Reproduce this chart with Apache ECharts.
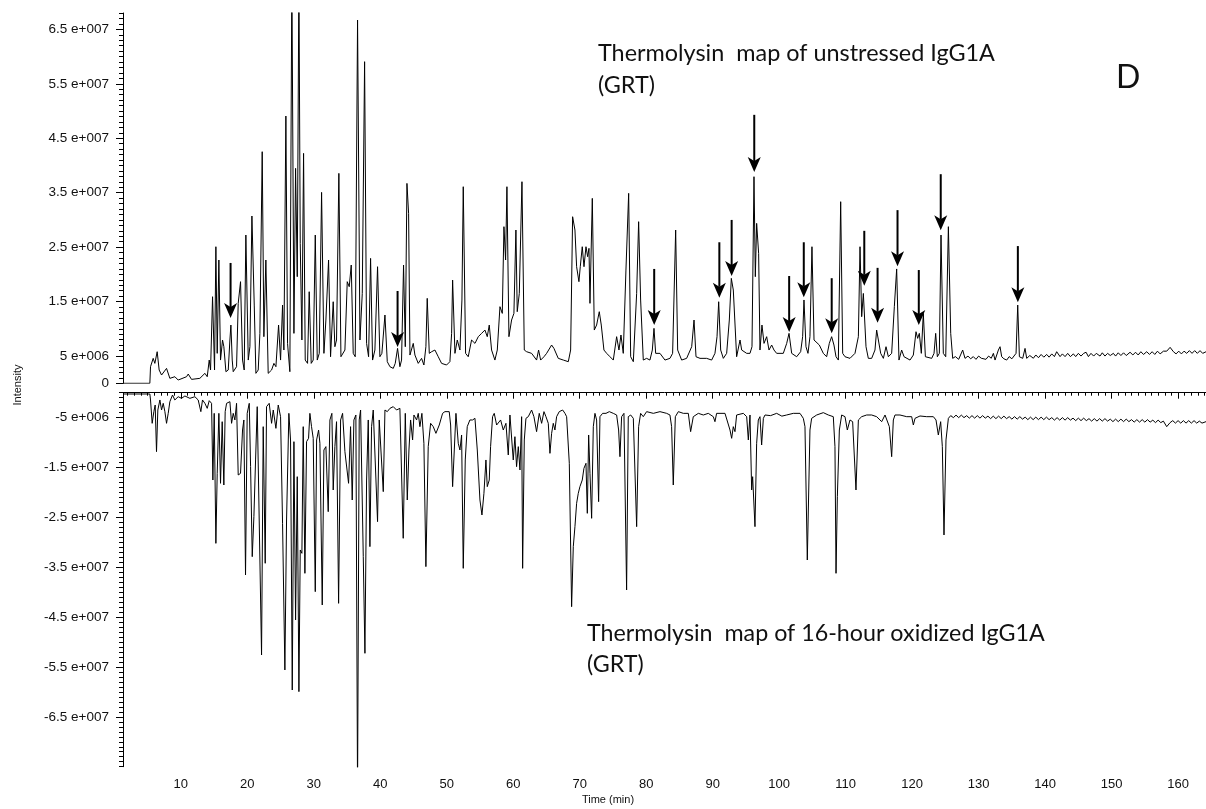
<!DOCTYPE html>
<html><head><meta charset="utf-8">
<script src="https://cdn.jsdelivr.net/npm/echarts@6/dist/echarts.min.js"></script>
<style>html,body{margin:0;padding:0;background:#fff}#c{width:1206px;height:809px}</style>
</head><body><div id="c"></div>
<script>
// Retention time (min) and intensity (units of 1e6 counts)
const upperTrace = [
[1.3,0],[5.34,0],[5.44,3.05],[5.84,4.58],[6.09,3.66],[6.44,5.8],[6.74,2.44],[7.1,1.52],[7.85,2.74],[8.35,0.91],[9.1,1.21],[9.6,0.6],[10.86,1.21],[11.11,1.7],[11.61,0.72],[12.86,0.91],[13.62,1.83],[13.97,1.21],[14.27,4.27],[14.47,2.44],[14.77,15.9],[15.07,2.44],[15.27,25.08],[15.47,5.5],[15.72,22.64],[15.97,4.27],[16.27,7.95],[16.47,6.72],[16.78,2.13],[17.13,2.44],[17.38,7.95],[17.53,10.7],[17.73,4.27],[17.88,2.13],[18.38,3.05],[18.63,14.68],[18.98,18.66],[19.28,4.27],[19.53,2.44],[19.78,27.23],[20.14,4.27],[20.39,6.72],[20.69,30.72],[21.04,14.37],[21.29,1.83],[21.64,2.44],[21.89,9.17],[22.24,42.53],[22.49,8.56],[22.79,22.64],[23.14,1.83],[23.65,2.44],[24.0,3.66],[24.3,3.05],[24.7,10.7],[25.0,4.27],[25.3,14.37],[25.5,6.11],[25.8,49.08],[26.05,7.33],[26.4,2.13],[26.7,75],[27.01,9.17],[27.26,39.47],[27.51,19.58],[27.76,75],[27.96,25.7],[28.21,7.95],[28.46,42.22],[28.71,4.27],[29.06,3.66],[29.31,16.82],[29.61,3.66],[29.91,4.27],[30.22,27.23],[30.52,4.27],[30.82,5.5],[31.17,35.06],[31.52,5.5],[31.82,11.62],[32.22,22.64],[32.52,4.88],[32.92,14.98],[33.17,6.72],[33.42,7.95],[33.77,38.55],[34.08,4.88],[34.68,6.11],[35.03,18.66],[35.33,17.74],[35.63,21.72],[35.93,5.5],[36.23,4.88],[36.58,66.71],[36.94,7.95],[37.29,16.51],[37.64,59.06],[37.94,7.33],[38.24,4.88],[38.54,22.94],[38.84,4.27],[39.19,6.11],[39.59,21.41],[39.94,4.88],[40.24,5.5],[40.7,12.54],[41.05,3.97],[41.45,3.05],[41.95,2.74],[42.25,3.66],[42.6,6.41],[42.95,3.05],[43.2,4.27],[43.5,21.72],[43.76,6.72],[44.01,36.71],[44.26,31.21],[44.46,5.19],
[44.96,7.33],[45.21,5.19],[45.71,3.66],[46.21,4.58],[46.56,3.36],[46.86,6.72],[47.06,15.6],[47.37,5.5],[47.72,5.8],[48.22,6.11],[48.72,4.88],[49.22,3.66],[49.97,3.36],[50.47,3.97],[50.73,9.17],[50.88,18.96],[51.23,5.5],[51.58,7.95],[51.98,6.11],[52.28,15.29],[52.48,36.1],[52.83,5.5],[53.23,4.88],[53.73,7.95],[54.24,7.33],[54.74,8.56],[55.24,9.17],[55.74,9.78],[56.09,8.56],[56.39,10.7],[56.74,6.11],[57.24,4.27],[57.6,6.11],[58.0,14.07],[58.35,12.84],[58.6,28.76],[58.85,22.64],[59.05,36.1],[59.35,8.56],[59.75,11.62],[60.1,12.84],[60.4,28.15],[60.6,13.15],[60.91,16.51],[61.31,37.02],[61.66,6.11],[62.01,5.8],[62.76,5.5],[63.51,4.27],[63.81,6.11],[64.12,4.27],[64.62,4.88],[65.02,5.5],[65.77,7.03],[66.12,6.41],[66.77,4.58],[67.53,4.27],[68.28,3.97],[68.63,6.11],[68.93,30.59],[69.28,28.15],[69.53,21.41],[69.88,18.66],[70.08,21.41],[70.38,25.08],[70.64,21.41],[70.94,25.08],[71.19,23.25],[71.39,24.78],[71.54,14.68],[71.89,33.96],[72.19,9.78],[72.54,10.7],[72.94,13.15],[73.24,10.7],[73.64,6.11],[74.05,5.5],[74.55,4.88],[75.05,4.27],[75.55,8.56],[75.9,6.11],[76.2,8.87],[76.55,5.5],[76.95,20.8],[77.36,34.88],[77.66,4.88],[78.06,3.97],[78.56,16.51],[78.86,29.68],[79.16,15.29],[79.56,4.27],[80.06,4.58],[80.56,4.27],[80.92,6.11],[81.17,10.09],[81.42,5.5],[82.07,5.5],[82.82,4.27],[83.57,4.58],[83.97,5.5],[84.43,28.15],[84.73,6.11],[85.33,4.27],[86.08,4.58],[86.84,6.72],[87.19,11.62],[87.49,4.88],[88.09,4.58],[89.09,4.58],[89.84,4.27],[90.34,5.5],[90.65,8.56],[90.9,14.98],[91.2,6.11],[91.6,4.58],[92.1,5.5],[92.5,11.62],[92.8,19.27],[93.1,17.13],[93.6,4.88],[94.11,7.95],[94.36,6.11],[95.11,5.5],[95.61,5.5],[95.91,6.72],[96.21,37.94],[96.41,19.58],[96.61,29.37],[96.91,23.86],[97.11,6.11],[97.41,10.7],[97.72,7.33],[98.12,8.56],[98.47,6.11],[98.87,7.03],[99.22,6.11],[99.62,5.5],[100.62,5.5],[101.13,7.33],[101.48,9.17],[101.88,5.5],[102.63,4.88],
[103.23,5.8],[103.53,8.56],[103.73,15.3],[104.03,6.72],[104.33,5.5],[104.63,8.56],[104.93,25.08],[105.24,7.95],[105.54,7.64],[106.04,7.03],[106.64,5.5],[107.14,4.88],[107.54,7.33],[107.89,8.56],[108.24,7.03],[108.55,4.88],[108.9,4.27],[109.25,33.35],[109.55,5.5],[109.9,4.88],[110.65,4.58],[111.4,5.5],[111.91,8.56],[112.16,25.08],[112.41,12.23],[112.66,16.5],[113.06,6.72],[113.41,4.58],[113.91,4.58],[114.41,6.11],[114.66,9.78],[114.96,10.09],[115.27,5.5],[115.67,4.58],[116.07,6.72],[116.42,4.88],[116.92,5.5],[117.32,14.07],[117.67,21.0],[118.02,4.27],[118.42,6.11],[118.78,4.88],[119.68,4.27],[120.18,5.19],[120.58,9.47],[120.83,8.25],[121.08,9.17],[121.38,5.5],[121.68,12.84],[121.99,4.88],[122.94,4.58],[123.29,5.5],[123.54,9.17],[123.79,4.88],[124.09,5.5],[124.34,27.23],[124.69,5.5],[125.05,4.88],[125.45,28.76],[125.8,9.17],[126.1,4.58],
[126.5,4.9],[127.0,4.4],[127.6,6.11],[127.95,4.58],[128.4,5.0],[128.8,4.5],[129.2,4.9],[129.6,4.4],[130.0,5.0],[130.4,4.6],[130.7,4.9],[131.1,4.4],[131.5,5.0],[131.9,4.6],[132.22,5.5],[132.47,4.27],[132.97,6.11],[133.22,6.72],[133.47,4.88],[133.8,4.5],[134.22,4.27],[134.6,4.9],[135.0,4.5],[135.23,4.58],[135.63,5.5],[135.88,14.37],[136.13,4.88],[136.63,4.58],[136.98,6.41],[137.23,4.58],[137.7,5.1],[138.23,4.6],[138.6,5.2],[139.0,4.7],[139.4,5.3],[139.8,4.8],[140.24,5.3],[140.6,4.8],[141.0,5.4],[141.4,4.9],[141.74,5.8],[142.25,4.9],[142.6,5.4],[143.0,4.9],[143.4,5.5],[143.8,4.9],[144.25,5.4],[144.6,4.9],[145.0,5.5],[145.4,5.0],[145.8,5.5],[146.16,5.7],[146.51,4.9],[146.9,5.5],[147.3,5.0],[147.7,5.5],[148.26,5.0],[148.6,5.6],[149.0,5.0],[149.4,5.5],[149.8,5.1],[150.27,5.5],[150.6,5.0],[151.0,5.6],[151.4,5.1],[151.8,5.6],[152.2,5.1],[152.78,5.7],[153.2,5.2],[153.6,5.7],[154.0,5.2],[154.4,5.8],[154.8,5.3],[155.29,5.8],[155.7,5.3],[156.1,5.8],[156.5,5.3],[156.9,5.9],[157.3,5.4],[157.8,5.9],[158.29,5.9],[158.8,6.6],[159.3,5.8],[159.7,5.4],[160.1,5.9],[160.5,5.4],[160.9,5.9],[161.3,5.5],[161.7,6.0],[162.1,5.5],[162.5,6.0],[162.9,5.5],[163.3,6.0],[163.7,5.5],[164.21,5.8]
];

const lowerTrace = [
[1.3,-0.26],[5.34,-0.26],[5.44,-1.46],[5.69,-6.14],[5.94,-3.8],[6.14,-2.47],[6.34,-11.82],[6.54,-3.47],[6.85,-1.46],[7.1,-3.47],[7.35,-2.13],[7.6,-3.8],[7.85,-6.14],[8.1,-4.14],[8.35,-1.8],[8.75,-0.46],[9.1,-1.46],[9.6,-0.8],[10.1,-1.13],[10.61,-0.66],[11.36,-1.13],[12.11,-0.8],[12.61,-1.46],[13.01,-3.8],[13.26,-1.46],[13.62,-2.13],[13.97,-3.14],[14.27,-1.6],[14.62,-2.13],[14.82,-17.51],[15.02,-4.14],[15.27,-30.21],[15.47,-16.17],[15.72,-4.14],[15.97,-18.17],[16.22,-5.81],[16.47,-18.51],[16.67,-3.8],[16.88,-2.13],[17.13,-1.8],[17.38,-1.8],[17.63,-6.14],[17.88,-4.14],[18.13,-5.47],[18.38,-2.13],[18.63,-16.5],[18.98,-16.17],[19.28,-7.48],[19.48,-5.47],[19.73,-36.55],[19.98,-4.14],[20.29,-2.13],[20.49,-14.83],[20.74,-32.88],[20.99,-24.86],[21.24,-13.49],[21.49,-2.8],[21.79,-2.8],[22.14,-52.6],[22.39,-6.81],[22.69,-34.21],[22.89,-2.8],[23.29,-2.13],[23.65,-6.14],[23.9,-3.47],[24.3,-7.15],[24.65,-2.47],[25.0,-4.81],[25.3,-26.19],[25.65,-55.6],[25.9,-25.53],[26.25,-4.14],[26.5,-9.48],[26.76,-59.62],[27.01,-9.82],[27.26,-45.58],[27.51,-16.84],[27.76,-59.95],[27.96,-31.54],[28.21,-32.21],[28.41,-6.81],[28.66,-36.22],[28.91,-9.82],[29.21,-9.15],[29.41,-4.14],[29.66,-6.81],[29.91,-9.15],[30.22,-39.9],[30.42,-9.48],[30.72,-7.48],[30.92,-10.15],[31.27,-42.57],[31.52,-11.49],[31.82,-10.82],[32.17,-23.86],[32.42,-5.47],[32.72,-4.14],[32.92,-19.51],[33.17,-10.82],[33.42,-5.81],[33.73,-42.24],[34.03,-5.47],[34.33,-4.14],[34.68,-11.82],[34.93,-11.82],[35.23,-18.17],[35.53,-6.81],[35.78,-21.52],[36.03,-5.47],[36.33,-4.47],[36.58,-80],[36.83,-5.47],[37.04,-3.47],[37.44,-32.88],[37.69,-52.26],[37.94,-17.51],[38.19,-5.47],[38.44,-30.87],[38.69,-6.81],[38.94,-3.47],[39.24,-3.47],[39.59,-25.86],[39.84,-5.47],[40.04,-5.47],[40.45,-19.84],[40.7,-3.47],[41.05,-3.8],[41.45,-3.14],[41.95,-2.8],[42.45,-3.47],[42.95,-3.14],[43.2,-3.47],[43.45,-29.2],[43.76,-4.14],[44.06,-21.52],[44.31,-11.49],[44.56,-5.47],[44.86,-9.48],[45.06,-4.47],[45.46,-5.47],[45.71,-4.14],[45.96,-6.81],[46.26,-4.14],[46.56,-10.15],[46.86,-34.88],[47.21,-10.82],[47.57,-6.14],[47.97,-6.81],[48.37,-8.15],[48.87,-6.48],[49.37,-4.14],[49.72,-3.8],[50.37,-3.8],[50.58,-6.48],[50.88,-18.84],[51.13,-11.49],[51.38,-4.14],[51.73,-10.15],[51.98,-11.49],[52.23,-8.48],[52.48,-35.22],[52.78,-13.49],[53.08,-6.81],[53.48,-5.47],[53.88,-5.47],[54.24,-5.14],[54.59,-11.49],[54.99,-21.52],[55.29,-24.52],[55.59,-20.18],[55.89,-13.49],[56.09,-18.84],[56.39,-17.51],[56.59,-10.82],[56.89,-4.81],[57.14,-4.14],[57.5,-6.48],[57.8,-6.81],[58.1,-5.47],[58.5,-7.48],[58.9,-6.14],[59.25,-12.49],[59.5,-4.47],[59.75,-4.81],[60.0,-13.49],[60.25,-8.82],[60.5,-14.83],[60.76,-10.82],[61.01,-15.5],[61.26,-4.81],[61.41,-35.22],[61.66,-9.48],[61.91,-5.14],[62.26,-4.81],[62.76,-3.47],[63.11,-4.81],[63.51,-7.81],[63.91,-4.14],[64.27,-6.14],[64.62,-3.8],[64.92,-4.81],[65.27,-6.14],[65.52,-12.16],[65.77,-8.15],[66.02,-6.14],[66.27,-7.48],[66.52,-4.81],[66.92,-3.8],[67.43,-3.47],[67.78,-4.14],[68.03,-4.81],[68.43,-14.16],[68.78,-42.91],[69.03,-30.87],[69.28,-26.86],[69.53,-22.18],[69.78,-20.18],[70.03,-18.84],[70.38,-17.51],[70.63,-15.17],[70.94,-14.16],[71.14,-24.19],[71.34,-8.48],[71.54,-16.17],[71.79,-25.19],[72.04,-6.81],[72.29,-4.14],[72.54,-5.47],[72.84,-21.85],[73.04,-4.81],[73.44,-4.14],[73.95,-4.14],[74.45,-3.8],[75.05,-4.14],[75.55,-4.47],[75.85,-7.48],[76.05,-12.83],[76.3,-4.81],[76.65,-4.14],[77.05,-39.56],[77.3,-4.81],[77.66,-4.47],[78.06,-5.14],[78.56,-26.86],[78.86,-6.81],[79.16,-4.14],[79.56,-4.81],[80.06,-3.8],[81.07,-4.14],[82.07,-3.8],[83.07,-4.14],[83.57,-4.47],[83.82,-6.81],[84.07,-18.51],[84.38,-4.81],[84.83,-3.8],[85.58,-4.14],[86.33,-4.14],[86.68,-7.81],[87.08,-4.81],[87.84,-4.14],[88.59,-4.47],[89.34,-4.14],[90.09,-4.81],[90.34,-5.81],[90.59,-4.14],[91.85,-4.14],[92.6,-7.48],[92.85,-9.15],[93.1,-6.81],[93.35,-7.81],[93.6,-4.47],[94.61,-4.14],[95.11,-4.81],[95.36,-9.48],[95.61,-4.47],[95.86,-19.51],[96.01,-16.84],[96.36,-26.86],[96.61,-10.15],[96.86,-5.47],[97.11,-4.81],[97.36,-10.49],[97.62,-5.14],[97.87,-4.47],[98.7,-4.6],[99.62,-4.14],
[100.4,-4.7],[101.12,-4.47],[102.13,-4.14],[103.13,-4.14],[103.63,-5.14],[103.88,-6.81],[104.23,-33.55],[104.63,-7.48],[104.88,-5.14],[105.64,-4.47],[106.64,-4.0],[107.39,-4.47],[108.14,-4.81],[108.39,-10.82],[108.55,-36.22],[108.75,-20.85],[109.05,-7.48],[109.4,-4.47],[109.9,-4.81],[110.25,-7.48],[110.65,-5.47],[111.05,-5.81],[111.55,-19.51],[111.91,-5.47],[112.41,-4.81],[113.16,-4.47],[113.91,-4.47],[114.66,-4.81],[115.42,-5.81],[115.92,-4.47],[116.17,-4.81],[116.57,-6.81],[116.92,-12.83],[117.17,-5.47],[117.42,-4.47],[118.17,-4.47],[119.18,-4.81],[119.93,-4.81],[120.18,-6.48],[120.43,-5.14],[121.18,-4.67],[122.19,-4.81],[123.19,-4.81],[123.59,-5.47],[123.94,-8.48],[124.29,-5.81],[124.54,-10.82],[124.79,-28.53],[125.09,-9.48],[125.45,-5.14],
[125.8,-4.6],[126.2,-5.0],[126.6,-4.5],[127.0,-5.0],[127.4,-4.5],[127.8,-5.0],[128.2,-4.6],[128.6,-5.1],[129.0,-4.6],[129.4,-5.1],[129.8,-4.6],[130.2,-5.1],[130.6,-4.6],[131.0,-5.1],[131.4,-4.7],[131.8,-5.2],[132.2,-4.7],[132.6,-5.2],[133.0,-4.7],[133.4,-5.2],[133.8,-4.7],[134.2,-5.2],[134.6,-4.8],[135.0,-5.3],[135.4,-4.8],[135.8,-5.3],[136.2,-4.8],[136.6,-5.3],[137.0,-4.9],[137.4,-5.4],[137.8,-4.9],[138.2,-5.4],[138.6,-4.9],[139.0,-5.4],[139.4,-4.9],[139.8,-5.4],[140.2,-4.9],[140.6,-5.4],[141.0,-5.0],[141.4,-5.5],[141.8,-5.0],[142.2,-5.5],[142.6,-5.0],[143.0,-5.5],[143.4,-5.0],[143.8,-5.5],[144.2,-5.1],[144.6,-5.6],[145.0,-5.1],[145.4,-5.6],[145.8,-5.1],[146.2,-5.6],[146.6,-5.2],[147.0,-5.7],[147.4,-5.2],[147.8,-5.7],[148.2,-5.2],[148.6,-5.7],[149.0,-5.2],[149.4,-5.7],[149.8,-5.3],[150.2,-5.8],[150.6,-5.3],[151.0,-5.8],[151.4,-5.3],[151.8,-5.8],[152.2,-5.3],[152.6,-5.8],[153.0,-5.4],[153.4,-5.9],[153.8,-5.4],[154.2,-5.9],[154.6,-5.4],[155.0,-5.9],[155.4,-5.4],[155.8,-5.9],[156.2,-5.5],[156.6,-6.0],[157.0,-5.5],[157.4,-6.0],[157.79,-5.7],[158.29,-6.81],[158.8,-6.0],[159.2,-5.6],[159.6,-6.1],[160.0,-5.6],[160.4,-6.1],[160.8,-5.6],[161.2,-6.1],[161.6,-5.6],[162.0,-6.1],[162.4,-5.6],[162.8,-6.1],[163.2,-5.7],[163.6,-6.1],[164.21,-5.8]
];

// Arrows marking peaks on the upper trace: time, tip intensity, tail intensity (1e6)
const arrowTime = [17.48, 42.6, 81.2, 91.0, 92.85, 96.25, 101.5, 103.7, 107.9, 112.8, 114.8, 117.8, 121.0, 124.3, 135.9];
const arrowTip  = [12.0, 6.67, 10.7, 15.7, 19.7, 38.8, 9.4, 15.8, 9.2, 17.9, 11.1, 21.5, 10.7, 28.1, 14.9];
const arrowTail = [22.1, 16.95, 21.0, 25.9, 30.0, 49.3, 19.7, 25.9, 19.3, 28.0, 21.2, 31.8, 20.8, 38.4, 25.2];

// Axis tick labels
const upperLabelValues = [0, 5, 15, 25, 35, 45, 55, 65];
const lowerLabelValues = [-5, -15, -25, -35, -45, -55, -65];
const timeLabelValues = [10, 20, 30, 40, 50, 60, 70, 80, 90, 100, 110, 120, 130, 140, 150, 160];

const upperTitle = ['Thermolysin  map of unstressed IgG1A', '(GRT)'];
const lowerTitle = ['Thermolysin  map of 16-hour oxidized IgG1A', '(GRT)'];
const panelLetter = 'D';
const xName = 'Time (min)';
const yName = 'Intensity';

function seq(a, b, step) { const r = []; for (let v = a; v <= b + 1e-9; v += step) r.push(+v.toFixed(6)); return r; }
const upperMinor = seq(0, 68, 1);
const lowerMinor = seq(-75, 0, 1);
const timeMinor = seq(2, 164, 1);

function sci(v) {
  if (Math.abs(v) < 1e-9) return '0';
  const s = v < 0 ? '-' : '';
  const a = Math.abs(v) * 1e6;
  const e = Math.floor(Math.log10(a) + 1e-9);
  const m = +(a / Math.pow(10, e)).toFixed(2);
  return s + m + ' e+' + String(e).padStart(3, '0');
}

function fitSize(text, family, width) {
  const ctx = document.createElement('canvas').getContext('2d');
  ctx.font = '100px ' + family;
  return 100 * width / ctx.measureText(text).width;
}

const X_MIN = 1.3, X_MAX = 164.2;
const ink = '#000';
const yLabelFont = { color: '#111', fontSize: 13.5, fontFamily: 'Liberation Sans, Arial, sans-serif' };
const xLabelFont = { color: '#111', fontSize: 13, fontFamily: 'Liberation Sans, Arial, sans-serif' };

const chart = echarts.init(document.getElementById('c'), null, { renderer: 'canvas' });

const titleFamily = 'Lato';
const upperSize = fitSize(upperTitle[0], titleFamily, 397);
const lowerSize = fitSize(lowerTitle[0], titleFamily, 458);

function yMain(grid, min, max, minor, labels) {
  return { gridIndex: grid, type: 'value', position: 'left', min, max,
    axisLine: { show: true, lineStyle: { color: ink, width: 1 } },
    axisTick: { show: true, length: 4, customValues: minor, lineStyle: { color: ink, width: 1 } },
    axisLabel: Object.assign({ show: true, customValues: labels, formatter: sci, margin: 14 }, yLabelFont),
    splitLine: { show: false } };
}
function yMajor(grid, min, max, labels) {
  return { gridIndex: grid, type: 'value', position: 'left', min, max,
    axisLine: { show: false },
    axisTick: { show: true, length: 7, customValues: labels, lineStyle: { color: ink, width: 1 } },
    axisLabel: { show: false }, splitLine: { show: false } };
}

const option = {
  animation: false,
  backgroundColor: '#fff',
  grid: [
    { left: 123, top: 13, width: 1083, height: 370.3 },
    { left: 123, top: 392.7, width: 1083, height: 374 }
  ],
  xAxis: [
    { gridIndex: 0, type: 'value', min: X_MIN, max: X_MAX, show: false },
    { gridIndex: 1, type: 'value', position: 'bottom', min: X_MIN, max: X_MAX,
      axisLine: { show: true, lineStyle: { color: ink, width: 1 } },
      axisTick: { show: true, length: 3, customValues: timeMinor, lineStyle: { color: ink } },
      axisLabel: Object.assign({ show: true, customValues: timeLabelValues, margin: 11 }, xLabelFont),
      splitLine: { show: false } },
    { gridIndex: 1, type: 'value', position: 'bottom', min: X_MIN, max: X_MAX,
      axisLine: { show: false },
      axisTick: { show: true, length: 6, customValues: timeLabelValues, lineStyle: { color: ink } },
      axisLabel: { show: false }, splitLine: { show: false } }
  ],
  yAxis: [
    yMain(0, 0, 68, upperMinor, upperLabelValues),
    yMajor(0, 0, 68, upperLabelValues),
    yMain(1, -75, 0, lowerMinor, lowerLabelValues),
    yMajor(1, -75, 0, lowerLabelValues)
  ],
  series: [
    { type: 'line', xAxisIndex: 0, yAxisIndex: 0, data: upperTrace, showSymbol: false, symbol: 'none',
      lineStyle: { color: ink, width: 1 }, silent: true, clip: true },
    { type: 'line', xAxisIndex: 1, yAxisIndex: 2, data: lowerTrace, showSymbol: false, symbol: 'none',
      lineStyle: { color: ink, width: 1 }, silent: true, clip: true },
    { type: 'custom', xAxisIndex: 0, yAxisIndex: 0, silent: true, clip: false,
      data: arrowTime.map((t, i) => [t, arrowTip[i], arrowTail[i]]),
      renderItem: function (params, api) {
        const tip = api.coord([api.value(0), api.value(1)]);
        const tail = api.coord([api.value(0), api.value(2)]);
        const hw = 6.5, hl = 15, notch = 4;
        return { type: 'group', children: [
          { type: 'line', shape: { x1: tail[0], y1: tail[1], x2: tip[0], y2: tip[1] - hl + notch },
            style: { stroke: ink, lineWidth: 2 } },
          { type: 'polygon', shape: { points: [[tip[0], tip[1]], [tip[0] - hw, tip[1] - hl], [tip[0], tip[1] - hl + notch], [tip[0] + hw, tip[1] - hl]] },
            style: { fill: ink } }
        ] };
      } }
  ],
  graphic: [
    { type: 'text', x: 598, y: 53, style: { text: upperTitle[0], font: upperSize.toFixed(2) + 'px ' + titleFamily, fill: '#111', verticalAlign: 'middle' } },
    { type: 'text', x: 598, y: 85, style: { text: upperTitle[1], font: upperSize.toFixed(2) + 'px ' + titleFamily, fill: '#111', verticalAlign: 'middle' } },
    { type: 'text', x: 587, y: 633, style: { text: lowerTitle[0], font: lowerSize.toFixed(2) + 'px ' + titleFamily, fill: '#111', verticalAlign: 'middle' } },
    { type: 'text', x: 587, y: 664, style: { text: lowerTitle[1], font: lowerSize.toFixed(2) + 'px ' + titleFamily, fill: '#111', verticalAlign: 'middle' } },
    { type: 'text', x: 1116, y: 78, style: { text: panelLetter, font: '32px ' + titleFamily, fill: '#111', verticalAlign: 'middle' } },
    { type: 'text', x: 608, y: 800, style: { text: xName, font: '11px Liberation Sans, Arial, sans-serif', fill: '#111', align: 'center', verticalAlign: 'middle' } },
    { type: 'text', x: 18, y: 385, rotation: Math.PI / 2, style: { text: yName, font: '11px Liberation Sans, Arial, sans-serif', fill: '#111', align: 'center', verticalAlign: 'middle' } }
  ]
};
chart.setOption(option);
</script>
</body></html>
